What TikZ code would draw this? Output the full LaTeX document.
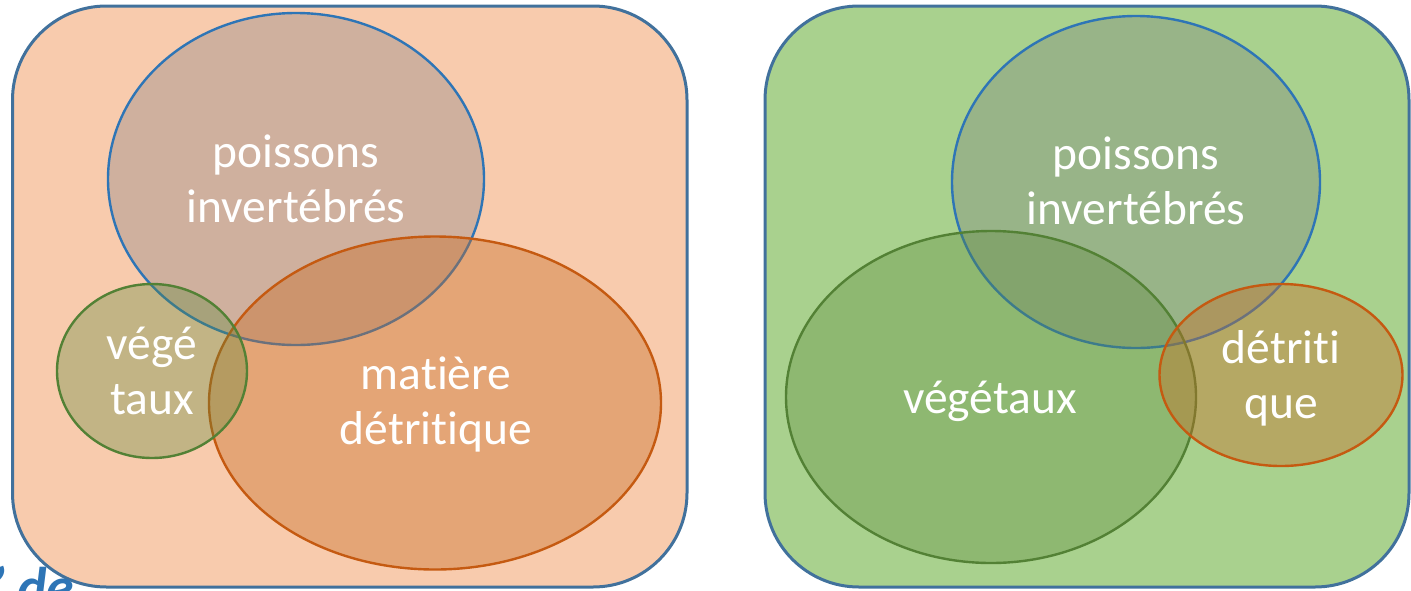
\documentclass[tikz,border=0pt]{standalone}
\usepackage{fontspec}
\setmainfont{Carlito}[Ligatures={NoCommon}]
\usetikzlibrary{shapes.geometric}
\definecolor{boxline}{HTML}{41719C}
\definecolor{peach}{HTML}{F8CBAD}
\definecolor{lgreen}{HTML}{A9D18E}
\definecolor{eblue}{HTML}{2E75B6}
\definecolor{eorange}{HTML}{C55A11}
\definecolor{egreen}{HTML}{538135}
\definecolor{fblue}{RGB}{115,116,125}
\definecolor{forange}{RGB}{200,108,37}
\definecolor{fgreen}{RGB}{91,136,58}
\definecolor{titleblue}{HTML}{2E75B6}
\tikzset{
  panel/.style={draw=boxline, line width=3pt, rounded corners=94pt},
  ell/.style={ellipse, inner sep=0pt, line width=2.4pt},
  blueell/.style={ell, draw=eblue, fill=fblue, fill opacity=0.3},
  orangeell/.style={ell, draw=eorange, fill=forange, fill opacity=0.4},
  greenell/.style={ell, draw=egreen, fill=fgreen, fill opacity=0.34},
  lbl/.style={text=white, align=center, font=\fontsize{47.5}{55}\selectfont, inner sep=0pt},
}
\begin{document}
\begin{tikzpicture}[x=1pt,y=-1pt]
\useasboundingbox (0,0) rectangle (1411,590);
\clip (0,0) rectangle (1411,590);
% panels
\draw[panel, fill=peach] (12.5,6) rectangle (687,587);
\draw[panel, fill=lgreen] (765,6) rectangle (1409,587);
% left ellipses
\node[blueell, minimum width=376pt, minimum height=332pt] (lfish) at (296,179) {};
\node[orangeell, minimum width=452pt, minimum height=333pt] (ldet) at (435,403) {};
\node[greenell, minimum width=190pt, minimum height=174pt] (lveg) at (152,371) {};
% right ellipses
\node[blueell, minimum width=368pt, minimum height=332pt] (rfish) at (1136,182) {};
\node[greenell, minimum width=410pt, minimum height=332pt] (rveg) at (991,397) {};
\node[orangeell, minimum width=243pt, minimum height=182pt] (rdet) at (1281,375) {};
% labels (base anchor = baseline of the last line)
\node[lbl, anchor=base] (tlfish) at (296,222) {poissons\\invertébrés};
\node[lbl, anchor=base] (tlveg) at (152,414) {végé\\taux};
\node[lbl, anchor=base] (tldet) at (436,444) {matière\\détritique};
\node[lbl, anchor=base] (trfish) at (1136,224) {poissons\\invertébrés};
\node[lbl, anchor=base] (trveg) at (990,413) {végétaux};
\node[lbl, anchor=base] (trdet) at (1281,418) {détriti\\que};
% cut-off title text
\node[anchor=base west, inner sep=0pt, text=titleblue, font=\fontsize{56}{64}\selectfont\bfseries\itshape] (title) at (-10,606) {’ de};
\end{tikzpicture}
\end{document}
